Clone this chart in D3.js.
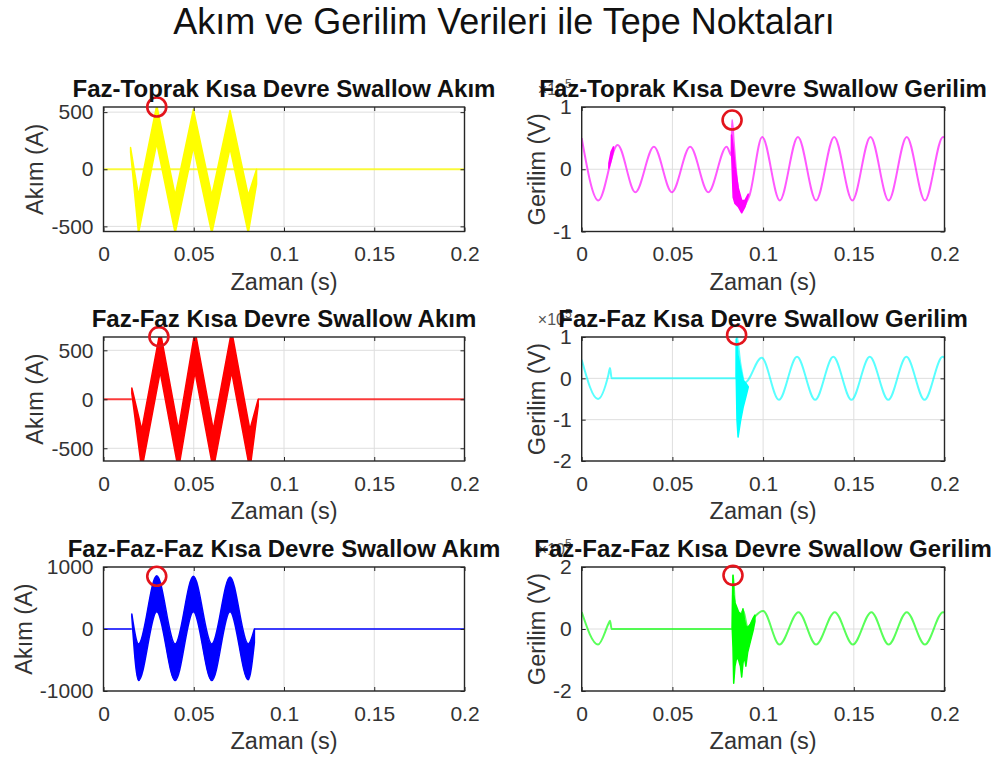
<!DOCTYPE html>
<html><head><meta charset="utf-8">
<script src="https://cdn.jsdelivr.net/npm/d3@7"></script>
<style>
body{margin:0;background:#fff}
svg{display:block}
text{font-family:"Liberation Sans",Arial,Helvetica,sans-serif}
</style>
</head><body>
<svg id="c" width="995" height="760"></svg>
<script>
// ================= DATA =================
const mainTitle = "Akım ve Gerilim Verileri ile Tepe Noktaları";
const panelTitles = [
  "Faz-Toprak Kısa Devre Swallow Akım", "Faz-Toprak Kısa Devre Swallow Gerilim",
  "Faz-Faz Kısa Devre Swallow Akım", "Faz-Faz Kısa Devre Swallow Gerilim",
  "Faz-Faz-Faz Kısa Devre Swallow Akım", "Faz-Faz-Faz Kısa Devre Swallow Gerilim"
];
const xLabel = "Zaman (s)";
const yLabelAkim = "Akım (A)";
const yLabelGerilim = "Gerilim (V)";
const timeDomain = [0, 0.2];
const timeTicks = [0, 0.05, 0.1, 0.15, 0.2];
const timeTickLabels = ["0", "0.05", "0.1", "0.15", "0.2"];

// --- Faz-Toprak akım (A): band envelope + zero line ---
const ftAkimT  = [0.0150, 0.0194, 0.0295, 0.0397, 0.0498, 0.0600, 0.0701, 0.0802, 0.0848];
const ftAkimHi = [190, -230, 560, -230, 525, -230, 515, -230, 0];
const ftAkimLo = [150, -560, 230, -560, 195, -560, 185, -560, -130];
const ftAkimZeroT = [0, 0.2];
const ftAkimZeroV = [0, 0];
const ftAkimPeak = [0.0295, 545];
const ftAkimDomain = [-545, 545];
const ftAkimTicks = [-500, 0, 500];

// --- Faz-Toprak gerilim (V) ---
const ftGerT = [0, 0.0092, 0.0198, 0.0296, 0.0398, 0.0497, 0.0598, 0.0698, 0.0799, 0.0826, 0.0829, 0.0838, 0.0855, 0.0884, 0.0905, 0.0925,
                0.0995, 0.1092, 0.1192, 0.1292, 0.1392, 0.1492, 0.1592, 0.1692, 0.1792, 0.1892, 0.1992, 0.2];
const ftGerV = [50000, -50000, 39000, -37000, 36000, -37000, 36000, -37000, 36000, 22000, 79000, 45000, -15000, -66000, -55000, -42000,
                52000, -50000, 52000, -50000, 52000, -50000, 52000, -50000, 52000, -50000, 52000, 51000];
const ftGerBurstT  = [0.0826, 0.0835, 0.0845, 0.0863, 0.0882, 0.0900, 0.0918];
const ftGerBurstHi = [55000, 35000, 5000, -30000, -50000, -50000, -40000];
const ftGerBurstLo = [30000, -45000, -55000, -60000, -70000, -60000, -42000];
const ftGerStartT  = [0.0150, 0.0162, 0.0175];
const ftGerStartHi = [10000, 28000, 36000];
const ftGerStartLo = [2000, 14000, 30000];
const ftGerPeak = [0.0829, 79000];
const ftGerDomain = [-100000, 100000];
const ftGerTicks = [-100000, 0, 100000];

// --- Faz-Faz akım (A) ---
const ffAkimT  = [0.0157, 0.0212, 0.0314, 0.0415, 0.0507, 0.0608, 0.0710, 0.0811, 0.0857];
const ffAkimHi = [115, -310, 700, -310, 700, -310, 700, -310, 0];
const ffAkimLo = [60, -720, 280, -720, 280, -720, 280, -720, -70];
const ffAkimZeroT1 = [0, 0.0157];
const ffAkimZeroT2 = [0.0857, 0.2];
const ffAkimZeroV = [0, 0];
const ffAkimPeak = [0.0307, 640];
const ffAkimDomain = [-630, 636];
const ffAkimTicks = [-500, 0, 500];

// --- Faz-Faz gerilim (V) ---
const ffGerT = [0, 0.0090, 0.0147, 0.0156, 0.0165, 0.0852, 0.0854, 0.0875, 0.0900, 0.0992, 0.1087, 0.1187, 0.1287,
                0.1387, 0.1487, 0.1588, 0.1690, 0.1790, 0.1890, 0.1990, 0.2];
const ffGerV = [45000, -50000, 8000, 25000, 0, 0, 103000, 35000, -10000, 50000, -52000, 52000, -52000,
                52000, -52000, 52000, -52000, 52000, -52000, 52000, 50000];
const ffGerBurstT  = [0.0852, 0.0856, 0.0862, 0.0875, 0.0890, 0.0905, 0.0918];
const ffGerBurstHi = [95000, 80000, 55000, 25000, -5000, -12000, -20000];
const ffGerBurstLo = [0, -100000, -142000, -105000, -70000, -45000, -22000];
const ffGerPeak = [0.0854, 105000];
const ffGerDomain = [-200000, 100000];
const ffGerTicks = [-200000, -100000, 0, 100000];

// --- Faz-Faz-Faz akım (A) ---
const fffAkimT  = [0.0157, 0.0194, 0.0295, 0.0397, 0.0498, 0.0600, 0.0701, 0.0802, 0.0836];
const fffAkimHi = [240, -240, 860, -240, 850, -240, 840, -240, 0];
const fffAkimLo = [200, -830, 280, -830, 280, -830, 280, -820, -220];
const fffAkimZeroT1 = [0, 0.0157];
const fffAkimZeroT2 = [0.0836, 0.2];
const fffAkimZeroV = [0, 0];
const fffAkimPeak = [0.0295, 850];
const fffAkimDomain = [-1000, 1000];
const fffAkimTicks = [-1000, 0, 1000];

// --- Faz-Faz-Faz gerilim (V) ---
const fffGerT = [0, 0.0090, 0.0147, 0.0156, 0.0165, 0.0830, 0.0834, 0.0845, 0.0870, 0.0890, 0.0915, 0.0955, 0.1000,
                 0.1090, 0.1195, 0.1292, 0.1395, 0.1495, 0.1597, 0.1692, 0.1792, 0.1892, 0.1992, 0.2];
const fffGerV = [55000, -50000, 16000, 27000, 0, 0, 173000, 80000, 40000, 60000, 5000, 40000, 58000,
                 -50000, 54000, -50000, 54000, -50000, 54000, -50000, 54000, -50000, 54000, 53000];
const fffGerBurstT  = [0.0830, 0.0834, 0.0838, 0.0845, 0.0855, 0.0865, 0.0875, 0.0882, 0.0889, 0.0897, 0.0905, 0.0915, 0.0930, 0.0945, 0.0955];
const fffGerBurstHi = [0, 173000, 110000, 85000, 70000, 55000, 50000, 45000, 65000, 30000, 10000, 5000, 15000, 35000, 45000];
const fffGerBurstLo = [0, -60000, -175000, -120000, -90000, -100000, -120000, -155000, -110000, -90000, -120000, -75000, -40000, -5000, 25000];
const fffGerPeak = [0.0834, 173000];
const fffGerDomain = [-200000, 200000];
const fffGerTicks = [-200000, 0, 200000];

// ================= LAYOUT =================
const W = 995, H = 760;
const colX = [[103.5, 464.5], [581.7, 944.5]];
const rowY = [[107, 231.5], [337, 461], [567, 691]];
const zip = (t, v) => t.map((d, i) => [d, v[i]]);
const zip3 = (t, hi, lo) => t.map((d, i) => ({t: d, hi: hi[i], lo: lo[i]}));

const panels = [
  {col:0,row:0,title:panelTitles[0],ylabel:yLabelAkim,color:"#ffff00",domain:ftAkimDomain,ticks:ftAkimTicks,scaled:false,
   lines:[{pts:zip(ftAkimZeroT,ftAkimZeroV),curve:d3.curveLinear}],
   bands:[{pts:zip3(ftAkimT,ftAkimHi,ftAkimLo),curve:d3.curveLinear}], peak:ftAkimPeak},
  {col:1,row:0,title:panelTitles[1],ylabel:yLabelGerilim,color:"#ff00ff",domain:ftGerDomain,ticks:ftGerTicks,scaled:true,
   lines:[{pts:zip(ftGerT,ftGerV),curve:d3.curveMonotoneX}],
   bands:[{pts:zip3(ftGerBurstT,ftGerBurstHi,ftGerBurstLo),curve:d3.curveLinear},{pts:zip3(ftGerStartT,ftGerStartHi,ftGerStartLo),curve:d3.curveLinear}], peak:ftGerPeak},
  {col:0,row:1,title:panelTitles[2],ylabel:yLabelAkim,color:"#ff0000",domain:ffAkimDomain,ticks:ffAkimTicks,scaled:false,
   lines:[{pts:zip(ffAkimZeroT1,ffAkimZeroV),curve:d3.curveLinear},{pts:zip(ffAkimZeroT2,ffAkimZeroV),curve:d3.curveLinear}],
   bands:[{pts:zip3(ffAkimT,ffAkimHi,ffAkimLo),curve:d3.curveLinear}], peak:ffAkimPeak},
  {col:1,row:1,title:panelTitles[3],ylabel:yLabelGerilim,color:"#00ffff",domain:ffGerDomain,ticks:ffGerTicks,scaled:true,
   lines:[{pts:zip(ffGerT,ffGerV),curve:d3.curveMonotoneX}],
   bands:[{pts:zip3(ffGerBurstT,ffGerBurstHi,ffGerBurstLo),curve:d3.curveLinear}], peak:ffGerPeak},
  {col:0,row:2,title:panelTitles[4],ylabel:yLabelAkim,color:"#0000ff",domain:fffAkimDomain,ticks:fffAkimTicks,scaled:false,
   lines:[{pts:zip(fffAkimZeroT1,fffAkimZeroV),curve:d3.curveLinear},{pts:zip(fffAkimZeroT2,fffAkimZeroV),curve:d3.curveLinear}],
   bands:[{pts:zip3(fffAkimT,fffAkimHi,fffAkimLo),curve:d3.curveMonotoneX}], peak:fffAkimPeak},
  {col:1,row:2,title:panelTitles[5],ylabel:yLabelGerilim,color:"#00ff00",domain:fffGerDomain,ticks:fffGerTicks,scaled:true,
   lines:[{pts:zip(fffGerT,fffGerV),curve:d3.curveMonotoneX}],
   bands:[{pts:zip3(fffGerBurstT,fffGerBurstHi,fffGerBurstLo),curve:d3.curveLinear}], peak:fffGerPeak}
];

const svg = d3.select("#c");
svg.append("rect").attr("width", W).attr("height", H).attr("fill", "#fff");
const defs = svg.append("defs");

const TICK_FS = 21, LABEL_FS = 23.5, TITLE_FS = 24;
const AX = "#262626";

svg.append("text").attr("x", 504).attr("y", 34).attr("text-anchor", "middle")
  .style("font-size", "36px").attr("fill", "#111").text(mainTitle);

panels.forEach((p, i) => {
  const [x0, x1] = colX[p.col], [y0, y1] = rowY[p.row];
  const x = d3.scaleLinear().domain(timeDomain).range([x0, x1]);
  const y = d3.scaleLinear().domain(p.domain).range([y1, y0]);
  const g = svg.append("g");
  const cid = "clip" + i;
  defs.append("clipPath").attr("id", cid).append("rect")
    .attr("x", x0).attr("y", y0).attr("width", x1 - x0).attr("height", y1 - y0);

  // grid
  g.append("g").selectAll("line").data(timeTicks).join("line")
    .attr("x1", d => x(d)).attr("x2", d => x(d)).attr("y1", y0).attr("y2", y1)
    .attr("stroke", "#dedede").attr("stroke-width", 1);
  g.append("g").selectAll("line").data(p.ticks).join("line")
    .attr("x1", x0).attr("x2", x1).attr("y1", d => y(d)).attr("y2", d => y(d))
    .attr("stroke", "#dedede").attr("stroke-width", 1);

  // data
  const plot = g.append("g").attr("clip-path", `url(#${cid})`);
  p.lines.forEach(l => {
    plot.append("path").datum(l.pts)
      .attr("d", d3.line().x(d => x(d[0])).y(d => y(d[1])).curve(l.curve))
      .attr("fill", "none").attr("stroke", p.color)
      .attr("stroke-width", 2)
      .attr("stroke-opacity", p.scaled ? 0.65 : 0.75);
  });
  p.bands.forEach(b => {
    plot.append("path").datum(b.pts)
      .attr("d", d3.area().x(d => x(d.t)).y0(d => y(d.lo)).y1(d => y(d.hi)).curve(b.curve))
      .attr("fill", p.color).attr("stroke", p.color).attr("stroke-width", 1.5)
      .attr("stroke-linejoin", "round");
  });

  // axes ticks
  const fmt = p.scaled ? (d => String(d / 100000)) : (d => String(d));
  const ax = g.append("g").attr("transform", `translate(0,${y1})`)
    .call(d3.axisBottom(x).tickValues(timeTicks).tickFormat((d, k) => timeTickLabels[k]).tickSize(-4).tickPadding(15));
  const ay = g.append("g").attr("transform", `translate(${x0},0)`)
    .call(d3.axisLeft(y).tickValues(p.ticks).tickFormat(fmt).tickSize(-4).tickPadding(10));
  const at = g.append("g").attr("transform", `translate(0,${y0})`)
    .call(d3.axisTop(x).tickValues(timeTicks).tickFormat("").tickSize(-4));
  const ar = g.append("g").attr("transform", `translate(${x1},0)`)
    .call(d3.axisRight(y).tickValues(p.ticks).tickFormat("").tickSize(-4));
  [ax, ay, at, ar].forEach(a => {
    a.select(".domain").remove();
    a.selectAll("line").attr("stroke", AX);
    a.selectAll("text").attr("fill", "#333").style("font-size", TICK_FS + "px")
      .style("font-family", '"Liberation Sans",Arial,sans-serif');
  });

  // box
  g.append("rect").attr("x", x0).attr("y", y0).attr("width", x1 - x0).attr("height", y1 - y0)
    .attr("fill", "none").attr("stroke", AX).attr("stroke-width", 1.4);

  // peak marker
  g.append("circle").attr("cx", x(p.peak[0])).attr("cy", y(p.peak[1])).attr("r", 9.5)
    .attr("fill", "none").attr("stroke", "#e3141c").attr("stroke-width", 2.6);

  // tick label width for ylabel placement
  let maxW = 0;
  ay.selectAll("text").each(function () { maxW = Math.max(maxW, this.getComputedTextLength()); });
  const lx = x0 - 10 - maxW - 8;
  g.append("text").attr("transform", `translate(${lx},${(y0 + y1) / 2}) rotate(-90)`)
    .attr("text-anchor", "middle").style("font-size", LABEL_FS + "px").attr("fill", "#333").text(p.ylabel);

  // x label
  g.append("text").attr("x", (x0 + x1) / 2).attr("y", y1 + 58).attr("text-anchor", "middle")
    .style("font-size", LABEL_FS + "px").attr("fill", "#333").text(xLabel);

  // exponent label (sits behind the panel title, as in the reference)
  if (p.scaled) {
    const ex = g.append("text").attr("x", x0 - 10).attr("y", y0 - 12).attr("text-anchor", "end")
      .style("font-size", "16px").attr("fill", "#555");
    ex.append("tspan").text("×10");
    ex.append("tspan").attr("dy", -7).style("font-size", "12px").text("5");
  }

  // title
  g.append("text").attr("x", (x0 + x1) / 2).attr("y", y0 - 10.5).attr("text-anchor", "middle")
    .style("font-size", TITLE_FS + "px").style("font-weight", "bold").attr("fill", "#111").text(p.title);
});
</script>
</body></html>
